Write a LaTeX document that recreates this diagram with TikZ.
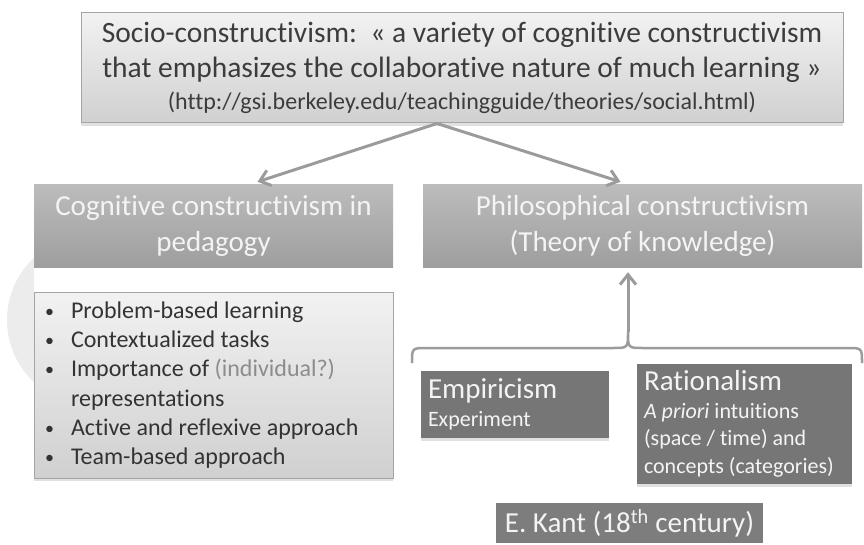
\documentclass[tikz,border=0pt]{standalone}
\usepackage{fontspec}
\setmainfont{Carlito}[Ligatures=NoCommon]
\usepackage{xcolor}
\definecolor{inkgray}{RGB}{60,60,60}
\definecolor{edgegray}{RGB}{165,165,165}
\definecolor{lighttop}{RGB}{242,242,242}
\definecolor{lightbot}{RGB}{208,208,208}
\definecolor{headtop}{RGB}{188,188,188}
\definecolor{headbot}{RGB}{158,158,158}
\definecolor{slate}{RGB}{118,118,118}
\definecolor{paper}{RGB}{244,244,244}
\definecolor{linegray}{RGB}{155,155,155}
\definecolor{faint}{RGB}{236,236,236}
\definecolor{hintgray}{RGB}{140,140,140}
\usetikzlibrary{arrows.meta,positioning,shadows}
\newcommand{\listdot}{\makebox[26pt][l]{\raisebox{1pt}{\fontsize{18}{18}\selectfont\textbullet}}}

\begin{document}
\begin{tikzpicture}[x=1pt, y=-1pt,
    link/.style={draw=linegray, line width=3pt, -{Straight Barb[length=10pt, width=16pt]}},
    lightbox/.style={draw=edgegray, line width=1pt, top color=lighttop, bottom color=lightbot,
      text=inkgray, drop shadow={shadow xshift=0pt, shadow yshift=-3pt, fill=black!12, opacity=1}},
    headbox/.style={top color=headtop, bottom color=headbot, text=paper, align=center,
      font=\fontsize{29}{36}\selectfont},
    darkbox/.style={fill=slate, text=paper, align=flush left, inner sep=7pt,
      drop shadow={shadow xshift=0pt, shadow yshift=-3pt, fill=black!12, opacity=1}}]
    \useasboundingbox (0,0) rectangle (864,545);

    % faint disc behind the left column
    \begin{scope}
      \clip (0,250) rectangle (34,400);
      \fill[faint] (92,320) circle (85);
    \end{scope}

    % Top: definition
    \node[lightbox, minimum width=762pt, minimum height=110pt, align=center,
          font=\fontsize{29.5}{35}\selectfont] (socio) at (462,68)
      {Socio-constructivism:\ \ «~a variety of cognitive constructivism\\
       that emphasizes the collaborative nature of much learning~»\\[-3pt]
       {\fontsize{24}{28}\selectfont (http://gsi.berkeley.edu/teachingguide/theories/social.html)}};

    % Two headings
    \node[headbox, minimum width=359pt, minimum height=82pt] (cog) at (213.5,226)
      {Cognitive constructivism in\\pedagogy};
    \node[headbox, minimum width=439pt, minimum height=82pt] (phil) at (642.5,226)
      {Philosophical constructivism\\(Theory of knowledge)};

    % Left: list
    \node[lightbox, minimum width=359pt, minimum height=186pt, text width=337pt,
          align=flush left, text=black!80, font=\fontsize{24}{29.3}\selectfont] (list) at (213.5,385)
      {\listdot Problem-based learning\\
       \listdot Contextualized tasks\\
       \listdot Importance of {\color{hintgray}(individual?)}\\
       \hspace*{26pt}representations\\
       \listdot Active and reflexive approach\\
       \listdot Team-based approach};

    % Right: two schools
    \node[darkbox, minimum width=188pt, minimum height=67pt, text width=174pt,
          font=\fontsize{22}{28}\selectfont] (emp) at (515,404.5)
      {{\fontsize{29}{28}\selectfont Empiricism}\\
       Experiment};
    \node[darkbox, minimum width=215pt, minimum height=120pt, text width=201pt,
          font=\fontsize{22}{27.5}\selectfont] (rat) at (744.5,424)
      {{\fontsize{29}{27.5}\selectfont Rationalism}\\
       \textit{A priori} intuitions\\
       (space / time) and\\
       concepts (categories)};
    \node[fill=slate!95!white, text=paper, minimum width=267pt, minimum height=40pt,
          font=\fontsize{29}{33}\selectfont] (kant) at (629.5,523)
      {E. Kant (18\textsuperscript{th} century)};

    % Arrows
    \coordinate (fork) at ([xshift=-25pt]socio.south);
    \draw[link] (fork) -- ([xshift=44pt, yshift=3pt]cog.north);
    \draw[link] (fork) -- ([xshift=-22pt, yshift=3pt]phil.north);

    % Brace over the two schools
    \coordinate (tip) at (628,332);
    \draw[linegray, line width=2.5pt] (412,363) .. controls (412,348) .. (427,348) -- (613,348)
      .. controls (628,348) .. (tip) .. controls (628,348) .. (643,348) -- (847,348)
      .. controls (862,348) .. (862,363);
    \draw[link] (tip) -- ([yshift=-5pt]phil.south -| tip);
  \end{tikzpicture}
\end{document}
